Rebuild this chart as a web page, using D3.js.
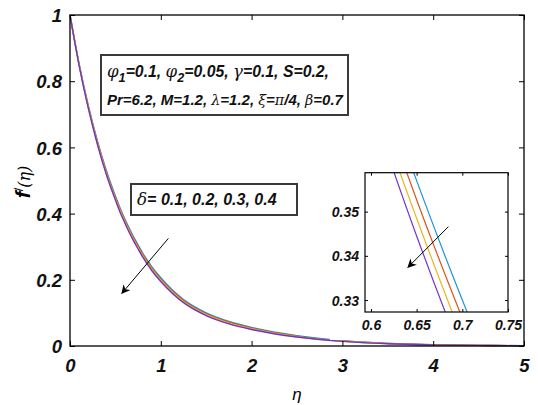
<!DOCTYPE html>
<html>
<head>
<meta charset="utf-8">
<script src="https://cdn.jsdelivr.net/npm/d3@7"></script>
<style>
body { margin: 0; background: #fff; }
text { font-family: "Liberation Sans", Arial, sans-serif; }
</style>
</head>
<body>
<svg class="graph" width="538" height="405"></svg>
<script>
// eta grid and f'(eta) for each delta
var eta = [0, 0.1, 0.2, 0.3, 0.4, 0.5, 0.55, 0.6, 0.65, 0.7, 0.75, 0.8, 0.9, 1.0, 1.25, 1.5, 1.75, 2.0, 2.5, 3.0, 3.5, 4.0, 4.5, 5.0];
var d01 = [1.000, 0.853, 0.728, 0.621, 0.530, 0.453, 0.418, 0.386, 0.357, 0.330, 0.305, 0.281, 0.240, 0.206, 0.140, 0.100, 0.074, 0.056, 0.031, 0.016, 0.008, 0.004, 0.002, 0.001];
var d02 = [1.000, 0.851, 0.725, 0.618, 0.526, 0.449, 0.414, 0.382, 0.3527, 0.3259, 0.301, 0.277, 0.236, 0.202, 0.137, 0.097, 0.072, 0.054, 0.030, 0.015, 0.0076, 0.0038, 0.0019, 0.00095];
var d03 = [1.000, 0.850, 0.723, 0.614, 0.522, 0.445, 0.410, 0.3775, 0.3485, 0.3215, 0.2966, 0.273, 0.232, 0.1985, 0.134, 0.0946, 0.0693, 0.052, 0.028, 0.0143, 0.0072, 0.0036, 0.0018, 0.0009];
var d04 = [1.000, 0.848, 0.720, 0.611, 0.518, 0.441, 0.405, 0.374, 0.3445, 0.3175, 0.293, 0.269, 0.228, 0.195, 0.131, 0.092, 0.067, 0.050, 0.027, 0.014, 0.007, 0.0035, 0.0018, 0.0009];
var series = [d01, d02, d03, d04];
var colors = ["#1a96d4", "#d9531e", "#e8b818", "#7035c8"];

var xTicks = [0, 1, 2, 3, 4, 5];
var yTicks = [0, 0.2, 0.4, 0.6, 0.8, 1];
var inXTicks = [0.6, 0.65, 0.7, 0.75];
var inYTicks = [0.33, 0.34, 0.35];

var svg = d3.select("svg");

var x = d3.scaleLinear().domain([0, 5]).range([70, 524]);
var y = d3.scaleLinear().domain([0, 1]).range([346, 15]);

var line = d3.line()
  .x(function(d){ return x(d[0]); })
  .y(function(d){ return y(d[1]); })
  .curve(d3.curveMonotoneX);

// main curves
series.forEach(function(s, i){
  svg.append("path")
    .datum(eta.map(function(e, j){ return [e, s[j]]; }))
    .attr("d", line)
    .attr("fill", "none")
    .attr("stroke", colors[i])
    .attr("stroke-width", 1.4);
});

// axes, ticks inward on all sides
var bx = svg.append("g").attr("transform", "translate(0,346)")
  .call(d3.axisBottom(x).tickValues(xTicks).tickSize(-5).tickPadding(12).tickFormat(d3.format("d")));
var lx = svg.append("g").attr("transform", "translate(70,0)")
  .call(d3.axisLeft(y).tickValues(yTicks).tickSize(-5).tickPadding(8).tickFormat(function(d){ return d === 0 || d === 1 ? d : d3.format(".1f")(d); }));
svg.append("g").attr("transform", "translate(0,15)")
  .call(d3.axisTop(x).tickValues(xTicks).tickSize(-5).tickFormat(""));
svg.append("g").attr("transform", "translate(524,0)")
  .call(d3.axisRight(y).tickValues(yTicks).tickSize(-5).tickFormat(""));
svg.selectAll(".domain").remove();
svg.selectAll(".tick line").attr("stroke", "#000");
[bx, lx].forEach(function(g){
  g.selectAll("text").attr("font-size", 18.5).attr("font-weight", "bold").attr("font-style", "italic").attr("fill", "#111")
   .attr("font-family", "Liberation Sans, Arial, sans-serif");
});
lx.selectAll("text").attr("dy", "0.36em");
bx.selectAll("text").attr("dy", "0.78em");

svg.append("rect").attr("x", 70).attr("y", 15).attr("width", 454).attr("height", 331)
  .attr("fill", "none").attr("stroke", "#000").attr("stroke-width", 1.3);

// axis labels
svg.append("text").attr("x", 297).attr("y", 400).attr("text-anchor", "middle")
  .attr("font-family", "DejaVu Serif, serif").attr("font-style", "italic").attr("font-size", 17).text("η");
var yl = svg.append("text").attr("transform", "translate(30,182) rotate(-90)").attr("text-anchor", "middle").attr("font-size", 21);
yl.append("tspan").attr("font-weight", "bold").attr("font-style", "italic").text("f");
yl.append("tspan").attr("dy", -7).attr("font-size", 13).text("/");
yl.append("tspan").attr("dy", 7).attr("font-family", "DejaVu Serif, serif").attr("font-style", "italic").attr("font-size", 16).text("(η)");

// parameter box
svg.append("rect").attr("x", 101).attr("y", 55).attr("width", 247).attr("height", 60)
  .attr("fill", "#fff").attr("stroke", "#3a3a3a").attr("stroke-width", 2);
function richLine(px, py, parts, size, gScale) {
  var t = svg.append("text").attr("x", px).attr("y", py).attr("font-size", size)
    .attr("font-weight", "bold").attr("font-style", "italic").attr("fill", "#111");
  parts.forEach(function(p){
    var s = t.append("tspan").text(p[0]);
    if (p[1] === "g") s.attr("font-family", "DejaVu Serif, serif").attr("font-weight", "normal").attr("font-size", size * gScale);
    if (p[1] === "sub") s.attr("dy", 5).attr("font-size", size * 0.8);
    if (p[1] === "up") s.attr("dy", -5);
  });
  return t;
}
richLine(107, 77, [["φ","g"],["1","sub"],["=0.1,  ","up"],["φ","g"],["2","sub"],["=0.05,  ","up"],["γ","g"],["=0.1,  S=0.2,"]], 15.8, 1.05);
richLine(107, 105, [["Pr=6.2, M=1.2, "],["λ","g"],["=1.2, "],["ξ","g"],["="],["π","g"],["/4, "],["β","g"],["=0.7"]], 15, 0.95);

// delta box
svg.append("rect").attr("x", 131).attr("y", 184).attr("width", 166).attr("height", 31)
  .attr("fill", "#fff").attr("stroke", "#3a3a3a").attr("stroke-width", 2);
richLine(137, 205, [["δ","g"],["= 0.1, 0.2, 0.3, 0.4"]], 16, 1.05);

// arrows
svg.append("defs").append("marker").attr("id", "ah").attr("viewBox", "0 0 10 10")
  .attr("refX", 9).attr("refY", 5).attr("markerWidth", 9).attr("markerHeight", 9)
  .attr("orient", "auto-start-reverse").attr("markerUnits", "userSpaceOnUse")
  .append("path").attr("d", "M0,0 L10,5 L0,10 L3,5 Z").attr("fill", "#000");
svg.append("line").attr("x1", x(1.083)).attr("y1", y(0.325)).attr("x2", x(0.571)).attr("y2", y(0.159))
  .attr("stroke", "#000").attr("stroke-width", 1).attr("marker-end", "url(#ah)");

// inset
var ix = d3.scaleLinear().domain([0.5935, 0.75]).range([365, 508]);
var iy = d3.scaleLinear().domain([0.3273, 0.3588]).range([312, 172.7]);
svg.append("rect").attr("x", 330).attr("y", 165).attr("width", 185).attr("height", 175).attr("fill", "#fff");
svg.append("clipPath").attr("id", "ic").append("rect").attr("x", 365).attr("y", 172.7).attr("width", 143).attr("height", 139.3);
var iline = d3.line()
  .x(function(d){ return ix(d[0]); })
  .y(function(d){ return iy(d[1]); })
  .curve(d3.curveMonotoneX);
var ig = svg.append("g").attr("clip-path", "url(#ic)");
series.forEach(function(s, i){
  ig.append("path")
    .datum(eta.map(function(e, j){ return [e, s[j]]; }))
    .attr("d", iline)
    .attr("fill", "none")
    .attr("stroke", colors[i])
    .attr("stroke-width", 1.2);
});
var ibx = svg.append("g").attr("transform", "translate(0,312)")
  .call(d3.axisBottom(ix).tickValues(inXTicks).tickSize(-3).tickPadding(8).tickFormat(function(d){ return String(d); }));
var ily = svg.append("g").attr("transform", "translate(365,0)")
  .call(d3.axisLeft(iy).tickValues(inYTicks).tickSize(-3).tickPadding(6).tickFormat(d3.format(".2f")));
svg.append("g").attr("transform", "translate(0,172.7)").call(d3.axisTop(ix).tickValues(inXTicks).tickSize(-3).tickFormat(""));
svg.append("g").attr("transform", "translate(508,0)").call(d3.axisRight(iy).tickValues(inYTicks).tickSize(-3).tickFormat(""));
svg.selectAll(".domain").remove();
[ibx, ily].forEach(function(g){
  g.selectAll("text").attr("font-size", 14).attr("font-weight", "bold").attr("font-style", "italic").attr("fill", "#111")
   .attr("font-family", "Liberation Sans, Arial, sans-serif");
});
ibx.selectAll("text").attr("dy", "0.72em");
ily.selectAll("text").attr("dy", "0.36em");
svg.append("rect").attr("x", 365).attr("y", 172.7).attr("width", 143).attr("height", 139.3)
  .attr("fill", "none").attr("stroke", "#000").attr("stroke-width", 1.2);
svg.append("line").attr("x1", ix(0.6848)).attr("y1", iy(0.3466)).attr("x2", ix(0.6405)).attr("y2", iy(0.3374))
  .attr("stroke", "#000").attr("stroke-width", 1).attr("marker-end", "url(#ah)");
</script>
</body>
</html>
